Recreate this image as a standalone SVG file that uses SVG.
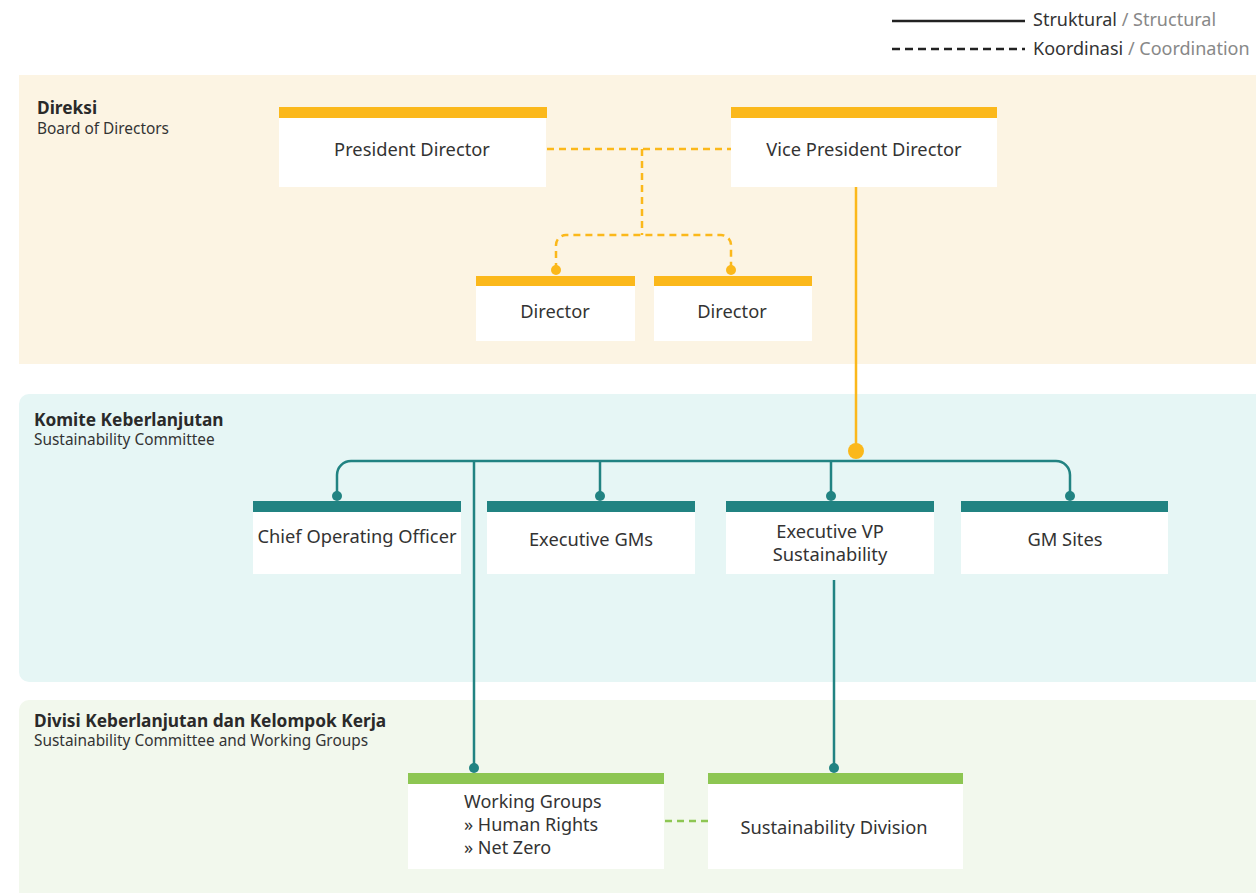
<svg xmlns="http://www.w3.org/2000/svg" width="1256" height="893" viewBox="0 0 1256 893">
  <style>
    text { font-family: "Noto Sans", "Open Sans", sans-serif; fill: #333333; }
    .lbl { font-size: 18.3px; text-anchor: middle; }
    .lbl-l { font-size: 18px; text-anchor: start; }
    .band-title { font-size: 17.3px; font-weight: bold; fill: #2a2a2a; }
    .band-sub { font-size: 15.4px; fill: #333333; }
    .legend { font-size: 18px; }
    .gray { fill: #888888; }
    .body { fill: #ffffff; }
    .bar-y { fill: #fbb81b; }
    .bar-t { fill: #218382; }
    .bar-g { fill: #8dc652; }
    .dash-y { fill: none; stroke: #fbb81b; stroke-width: 2.5; stroke-dasharray: 7 5; }
    .solid-y { fill: none; stroke: #fbb81b; stroke-width: 2.5; }
    .solid-t { fill: none; stroke: #218382; stroke-width: 2.5; }
    .dash-g { fill: none; stroke: #8dc652; stroke-width: 2.5; stroke-dasharray: 7 5; }
  </style>

  <!-- legend -->
  <g id="legend">
    <line x1="892" y1="21" x2="1025" y2="21" stroke="#222" stroke-width="2.5"/>
    <text class="legend" x="1033" y="26">Struktural<tspan class="gray"> / Structural</tspan></text>
    <line x1="892" y1="49" x2="1025" y2="49" stroke="#222" stroke-width="2.5" stroke-dasharray="8 5"/>
    <text class="legend" x="1033" y="55">Koordinasi<tspan class="gray"> / Coordination</tspan></text>
  </g>

  <!-- background bands -->
  <g id="bands">
    <rect x="19" y="75" width="1237" height="289" fill="#fcf4e3"/>
    <path d="M29 394 H1256 V682 H29 A10 10 0 0 1 19 672 V404 A10 10 0 0 1 29 394 Z" fill="#e6f6f5"/>
    <path d="M29 700 H1256 V893 H19 V710 A10 10 0 0 1 29 700 Z" fill="#f2f8ed"/>
    <text class="band-title" x="37" y="114">Direksi</text>
    <text class="band-sub" x="37" y="134">Board of Directors</text>
    <text class="band-title" x="34" y="426">Komite Keberlanjutan</text>
    <text class="band-sub" x="34" y="445">Sustainability Committee</text>
    <text class="band-title" x="34" y="727">Divisi Keberlanjutan dan Kelompok Kerja</text>
    <text class="band-sub" x="34" y="746">Sustainability Committee and Working Groups</text>
  </g>

  <!-- connectors -->
  <g id="connectors">
    <!-- coordination among directors -->
    <path class="dash-y" d="M547 149 H731"/>
    <path class="dash-y" d="M642 149 V235"/>
    <path class="dash-y" d="M556 270 V245 A10 10 0 0 1 566 235 H721 A10 10 0 0 1 731 245 V270"/>
    <circle cx="556" cy="270" r="5" fill="#fbb81b"/>
    <circle cx="731" cy="270" r="5" fill="#fbb81b"/>
    <!-- vice president to committee -->
    <path class="solid-y" d="M856 187 V451"/>
    <!-- committee bus -->
    <path class="solid-t" d="M337 496 V475 A14 14 0 0 1 351 461 H1056 A14 14 0 0 1 1070 475 V496"/>
    <path class="solid-t" d="M600 461 V496"/>
    <path class="solid-t" d="M831 461 V496"/>
    <circle cx="337" cy="496" r="5" fill="#218382"/>
    <circle cx="600" cy="496" r="5" fill="#218382"/>
    <circle cx="831" cy="496" r="5" fill="#218382"/>
    <circle cx="1070" cy="496" r="5" fill="#218382"/>
    <circle cx="856" cy="451" r="8" fill="#fbb81b"/>
    <!-- committee to working groups / division -->
    <path class="solid-t" d="M474 461 V768"/>
    <path class="solid-t" d="M834 580 V768"/>
    <circle cx="474" cy="768" r="5" fill="#218382"/>
    <circle cx="834" cy="768" r="5" fill="#218382"/>
    <!-- coordination working groups / division -->
    <path class="dash-g" d="M665 821 H708"/>
  </g>

  <!-- board of directors -->
  <g id="president-director">
    <rect class="body" x="279" y="117" width="267" height="70"/>
    <rect class="bar-y" x="279" y="107" width="268" height="11"/>
    <text class="lbl" x="412" y="156">President Director</text>
  </g>
  <g id="vice-president-director">
    <rect class="body" x="731" y="117" width="266" height="70"/>
    <rect class="bar-y" x="731" y="107" width="266" height="11"/>
    <text class="lbl" x="864" y="156">Vice President Director</text>
  </g>
  <g id="director-1">
    <rect class="body" x="476" y="285" width="159" height="56"/>
    <rect class="bar-y" x="476" y="276" width="159" height="10"/>
    <text class="lbl" x="555" y="318">Director</text>
  </g>
  <g id="director-2">
    <rect class="body" x="654" y="285" width="158" height="56"/>
    <rect class="bar-y" x="654" y="276" width="158" height="10"/>
    <text class="lbl" x="732" y="318">Director</text>
  </g>

  <!-- sustainability committee -->
  <g id="coo">
    <rect class="body" x="253" y="511" width="208" height="63"/>
    <rect class="bar-t" x="253" y="501" width="208" height="11"/>
    <text class="lbl" x="357" y="543">Chief Operating Officer</text>
  </g>
  <g id="executive-gms">
    <rect class="body" x="487" y="511" width="208" height="63"/>
    <rect class="bar-t" x="487" y="501" width="208" height="11"/>
    <text class="lbl" x="591" y="546">Executive GMs</text>
  </g>
  <g id="executive-vp">
    <rect class="body" x="726" y="511" width="208" height="63"/>
    <rect class="bar-t" x="726" y="501" width="208" height="11"/>
    <text class="lbl" x="830" y="538">Executive VP</text>
    <text class="lbl" x="830" y="561">Sustainability</text>
  </g>
  <g id="gm-sites">
    <rect class="body" x="961" y="511" width="207" height="63"/>
    <rect class="bar-t" x="961" y="501" width="207" height="11"/>
    <text class="lbl" x="1065" y="546">GM Sites</text>
  </g>

  <!-- division and working groups -->
  <g id="working-groups">
    <rect class="body" x="408" y="783" width="256" height="86"/>
    <rect class="bar-g" x="408" y="773" width="256" height="11"/>
    <text class="lbl-l" x="464" y="808">Working Groups</text>
    <text class="lbl-l" x="464" y="831">» Human Rights</text>
    <text class="lbl-l" x="464" y="854">» Net Zero</text>
  </g>
  <g id="sustainability-division">
    <rect class="body" x="708" y="783" width="255" height="86"/>
    <rect class="bar-g" x="708" y="773" width="255" height="11"/>
    <text class="lbl" x="834" y="834">Sustainability Division</text>
  </g>
</svg>
